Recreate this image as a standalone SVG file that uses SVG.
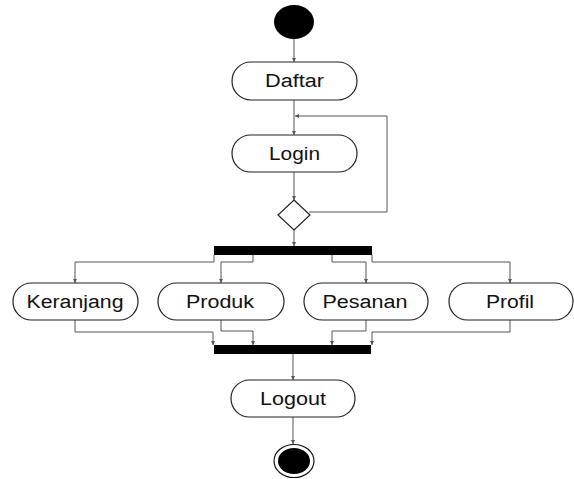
<svg xmlns="http://www.w3.org/2000/svg" width="574" height="479" viewBox="0 0 574 479">
<style>
.act rect{fill:#fff;stroke:#222;stroke-width:1.2}
.act text{font-family:"Liberation Sans",Arial,sans-serif;font-size:18px;fill:#111;text-anchor:middle}
.bar{fill:#000}
#connectors path{fill:none;stroke:#555;stroke-width:1}
</style>
<defs>
<marker id="ah" viewBox="0 0 4 4" refX="4" refY="2" markerWidth="4" markerHeight="4" orient="auto" markerUnits="userSpaceOnUse">
<path d="M0,0 L4,2 L0,4 z" fill="#555"/>
</marker>
</defs>
<rect width="574" height="479" fill="#fff"/>
<g id="connectors">
<path d="M294,38 V62" marker-end="url(#ah)"/>
<path d="M294,100 V135" marker-end="url(#ah)"/>
<path d="M294,172 V200" marker-end="url(#ah)"/>
<path d="M309,212 H387 V116 H295" marker-end="url(#ah)"/>
<path d="M294,230 V246" marker-end="url(#ah)"/>
<path d="M214,255 V262 H75 V283" marker-end="url(#ah)"/>
<path d="M253,255 V262 H221 V283" marker-end="url(#ah)"/>
<path d="M332,255 V262 H366 V283" marker-end="url(#ah)"/>
<path d="M372,255 V262 H510 V283" marker-end="url(#ah)"/>
<path d="M75,320 V332 H213 V345" marker-end="url(#ah)"/>
<path d="M221,320 V331 H253 V345" marker-end="url(#ah)"/>
<path d="M366,320 V331 H332 V345" marker-end="url(#ah)"/>
<path d="M510,320 V332 H372 V345" marker-end="url(#ah)"/>
<path d="M293,354 V380" marker-end="url(#ah)"/>
<path d="M293,417 V444" marker-end="url(#ah)"/>
</g>
<g id="start"><ellipse cx="294" cy="22" rx="20" ry="17" fill="#000"/></g>
<g id="daftar" class="act"><rect x="232" y="62" width="125" height="38" rx="19"/><text x="294.5" y="87" textLength="59" lengthAdjust="spacingAndGlyphs">Daftar</text></g>
<g id="login" class="act"><rect x="232" y="135" width="125" height="37" rx="18.5"/><text x="294.5" y="160" textLength="51" lengthAdjust="spacingAndGlyphs">Login</text></g>
<g id="decision"><polygon points="294,200 310,215 294,230 278,215" fill="#fff" stroke="#222" stroke-width="1.2"/></g>
<g id="fork"><rect class="bar" x="214" y="246" width="158" height="9"/></g>
<g id="keranjang" class="act"><rect x="13" y="283" width="125" height="37" rx="18.5"/><text x="75" y="308" textLength="97" lengthAdjust="spacingAndGlyphs">Keranjang</text></g>
<g id="produk" class="act"><rect x="158" y="283" width="126" height="37" rx="18.5"/><text x="220" y="308" textLength="68" lengthAdjust="spacingAndGlyphs">Produk</text></g>
<g id="pesanan" class="act"><rect x="304" y="283" width="124" height="37" rx="18.5"/><text x="365" y="308" textLength="85" lengthAdjust="spacingAndGlyphs">Pesanan</text></g>
<g id="profil" class="act"><rect x="449" y="283" width="124" height="37" rx="18.5"/><text x="510" y="308" textLength="48" lengthAdjust="spacingAndGlyphs">Profil</text></g>
<g id="join"><rect class="bar" x="214" y="345" width="157" height="9"/></g>
<g id="logout" class="act"><rect x="231" y="380" width="124" height="37" rx="18.5"/><text x="293" y="405" textLength="66" lengthAdjust="spacingAndGlyphs">Logout</text></g>
<g id="end"><ellipse cx="294" cy="461" rx="20" ry="16.5" fill="#fff" stroke="#111" stroke-width="1.2"/><ellipse cx="294" cy="461" rx="16" ry="13" fill="#000"/></g>
</svg>
